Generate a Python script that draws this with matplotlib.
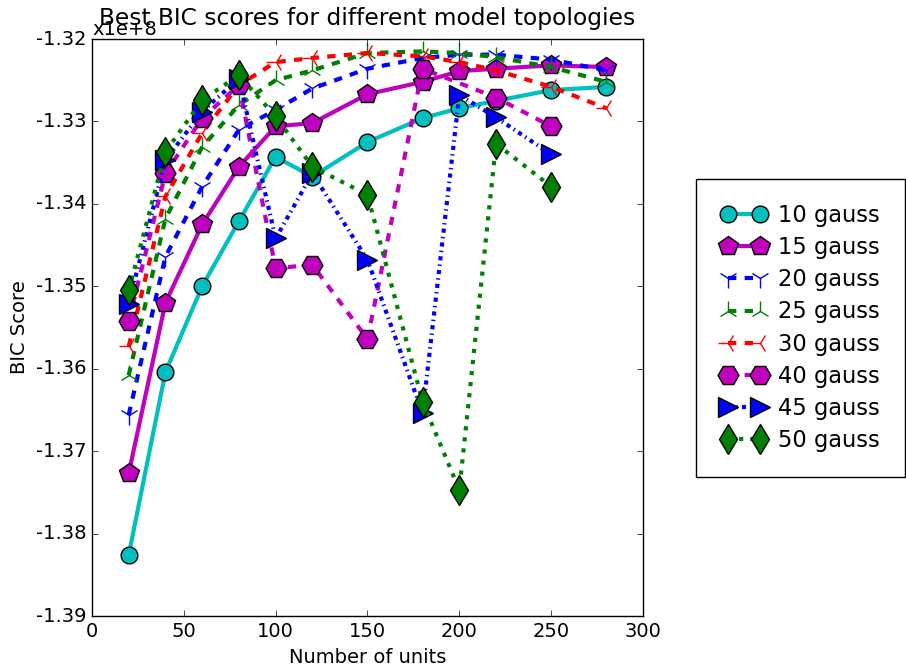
import matplotlib
matplotlib.use("Agg")
import matplotlib.pyplot as plt
from matplotlib.ticker import FormatStrFormatter

plt.style.use("classic")
plt.rcParams["axes.unicode_minus"] = False
plt.rcParams["font.family"] = ["DejaVu Sans"]
plt.rcParams["font.size"] = 14

# BIC scores, in units of 1e8
units_full = [20, 40, 60, 80, 100, 120, 150, 180, 200, 220, 250, 280]
units_short = [20, 40, 60, 80, 100, 120, 150, 180, 200, 220, 250]
units_40 = [20, 40, 60, 80, 100, 120, 150, 180, 220, 250]

bic_10 = [-1.3826, -1.3604, -1.3500, -1.3421, -1.3343, -1.3367, -1.3325,
          -1.3296, -1.3284, -1.3275, -1.3262, -1.3258]
bic_15 = [-1.3727, -1.3520, -1.3425, -1.3355, -1.3306, -1.3302, -1.3267,
          -1.3252, -1.3239, -1.3236, -1.3232, -1.3234]
bic_20 = [-1.3656, -1.3464, -1.3379, -1.3310, -1.3286, -1.3260, -1.3236,
          -1.3223, -1.3219, -1.3219, -1.3225, -1.3238]
bic_25 = [-1.3608, -1.3418, -1.3331, -1.3280, -1.3250, -1.3238, -1.3217,
          -1.3215, -1.3217, -1.3222, -1.3234, -1.3252]
bic_30 = [-1.3573, -1.3391, -1.3314, -1.3256, -1.3228, -1.3223, -1.3217,
          -1.3221, -1.3228, -1.3238, -1.3258, -1.3284]
bic_40 = [-1.3542, -1.3363, -1.3296, -1.3256, -1.3478, -1.3474, -1.3564,
          -1.3236, -1.3271, -1.3306]
bic_45 = [-1.3521, -1.3347, -1.3288, -1.3248, -1.3442, -1.3363, -1.3468,
          -1.3654, -1.3268, -1.3295, -1.3340]
bic_50 = [-1.3505, -1.3337, -1.3274, -1.3244, -1.3294, -1.3355, -1.3389,
          -1.3640, -1.3747, -1.3327, -1.3379]

# label, x, y, colour, marker, linestyle, markersize
series = [
    ("10 gauss", units_full, bic_10, "c", "o", "-", 12),
    ("15 gauss", units_full, bic_15, "m", "p", "-", 15),
    ("20 gauss", units_full, bic_20, "b", "1", "--", 15),
    ("25 gauss", units_full, bic_25, "g", "2", "--", 15),
    ("30 gauss", units_full, bic_30, "r", "3", "--", 15),
    ("40 gauss", units_40, bic_40, "m", "H", "--", 15),
    ("45 gauss", units_short, bic_45, "b", ">", (0, (3, 3, 1, 3)), 14),
    ("50 gauss", units_short, bic_50, "g", "d", (0, (3, 5)), 15),
]

fig = plt.figure(figsize=(9.06, 6.68), dpi=100, facecolor="white")
ax = fig.add_axes([0.1015, 0.0778, 0.6082, 0.8638])

for label, xs, ys, color, marker, ls, ms in series:
    edge = color if marker in "123" else "k"
    ax.plot(xs, ys, color=color, marker=marker, linestyle=ls, linewidth=3,
            markersize=ms, markeredgecolor=edge, markeredgewidth=1,
            label=label)

ax.set_xlim(0, 300)
ax.set_ylim(-1.39, -1.32)
ax.yaxis.set_major_formatter(FormatStrFormatter("%.2f"))
ax.set_xlabel("Number of units", fontsize=14)
ax.set_ylabel("BIC Score", fontsize=14)
ax.set_title("Best BIC scores for different model topologies",
             fontsize=16.8, y=1.012)
ax.text(0.0, 1.0, "x1e+8", transform=ax.transAxes, fontsize=14,
        ha="left", va="bottom")

fig.legend(loc="center right", bbox_to_anchor=(0.9985, 0.509),
           borderaxespad=0, fontsize=16.3, numpoints=2, fancybox=False,
           borderpad=1.1, labelspacing=0.4, handletextpad=0.5,
           handlelength=2.0)

fig.savefig("out.png", dpi=100, facecolor="white")
